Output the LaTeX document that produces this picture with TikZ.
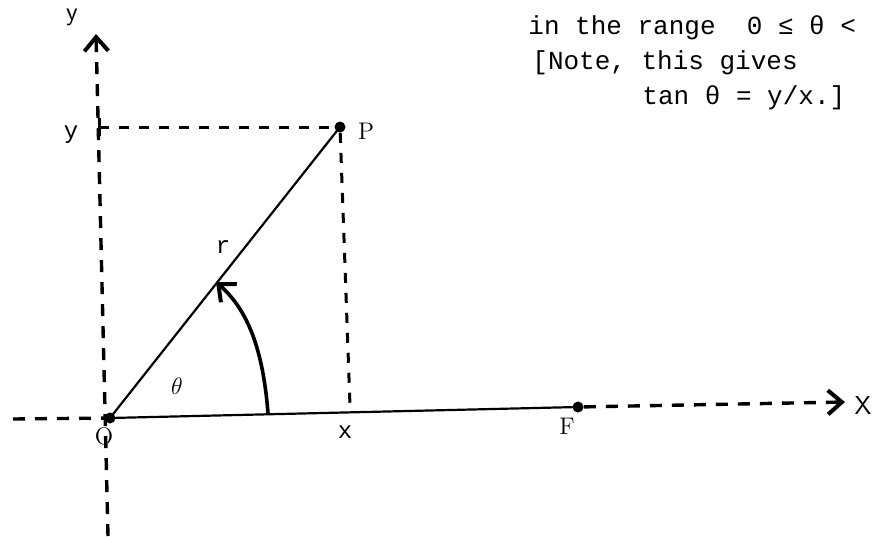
\documentclass[tikz,border=0pt]{standalone}
\usepackage{fontspec}
\setmonofont{Liberation Mono}
\usetikzlibrary{arrows.meta,positioning}

\begin{document}
\begin{tikzpicture}[x=0.5pt, y=-0.5pt, >={Straight Barb[length=7pt,width=12pt,line width=2pt]},
  font=\ttfamily\fontsize{12}{14}\selectfont,
  axis/.style={line width=1.7pt, dash pattern=on 6pt off 5pt},
  guide/.style={line width=1.5pt, dash pattern=on 5pt off 5pt},
  ray/.style={line width=1.1pt},
  dot/.style={circle, fill, inner sep=0pt, minimum size=5.5pt},
  serif/.style={font=\rmfamily\fontsize{12}{14}\selectfont},
  note/.style={anchor=west, inner sep=0pt, font=\ttfamily\fontsize{13}{15}\selectfont}]

\useasboundingbox (0,0) rectangle (872,536);

% Points
\node[dot] (O) at (110,418) {};
\node[dot] (P) at (340,127) {};
\node[dot] (F) at (578,407) {};

% Axis ends and feet
\coordinate (Xl) at (13,419);
\coordinate (Xr) at (845,402);
\coordinate (Yb) at (108,536);
\coordinate (Yt) at (96,34);
\coordinate (Yp) at (99,127);
\coordinate (Xp) at (350,406);

% Ends of the angle arrow
\coordinate (A0) at (268,413);
\coordinate (A1) at (216,282);

% x axis
\draw[axis] (Xl) -- (O.center);
\draw[ray] (O.center) -- (F.center);
\draw[axis,->] (F) -- (Xr);

% y axis
\draw[axis,->] (Yb) -- (Yt);

% Projections of P
\draw[guide] (Yp) -- (P);
\draw[line width=1.5pt] (99,118) -- (99,136);
\draw[guide] (P) -- (Xp);

% Radius
\draw[ray] (O.center) -- (P.center);

% Angle theta
\draw[line width=1.8pt,->] (A0) .. controls (263,350) and (248,310) .. (A1);

% Labels
\node[font=\sffamily\fontsize{13}{15}\selectfont] (ly) at (72,17) {y};
\node (lyp) at (71,135) {y};
\node[serif] (lP) at (366,131) {P};
\node (lr) at (223,247) {r};
\node[serif] (lth) at (177,386) {$\theta$};
\node[serif] (lO) at (104,436) {O};
\node (lx) at (345,432) {x};
\node[serif] (lF) at (567,426) {F};
\node[font=\sffamily\fontsize{13}{15}\selectfont] (lX) at (863,405) {X};

% Note at top right
\node[note] (t1) at (528,28) {in the range~~0 ≤ θ <};
\node[note] (t2) at (532,63) {[Note, this gives};
\node[note] (t3) at (642,98) {tan θ = y/x.]};

\end{tikzpicture}
\end{document}
